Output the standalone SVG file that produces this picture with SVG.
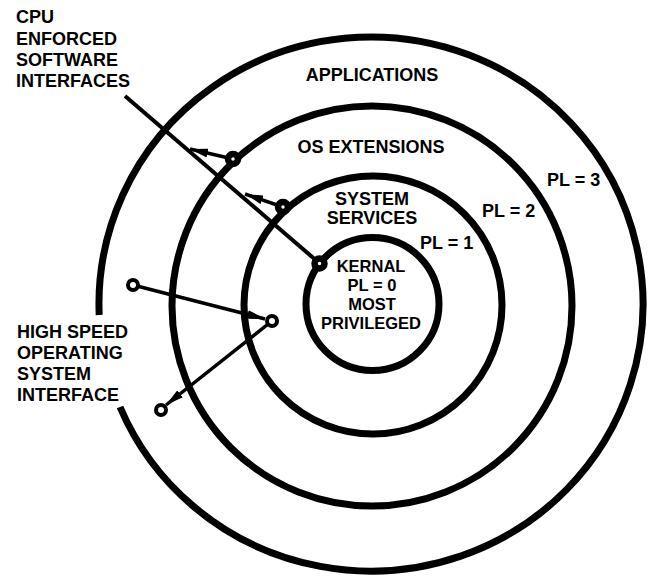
<svg xmlns="http://www.w3.org/2000/svg" width="649" height="578" viewBox="0 0 649 578">
<style>
  .ring { fill: none; stroke: #000; stroke-width: 7; }
  .lbl { font-family: "Liberation Sans", Arial, sans-serif; font-weight: bold; font-size: 18px; fill: #000; }
  .k { font-size: 16.5px; }
  .mid { text-anchor: middle; }
  .conn { fill: none; stroke: #000; stroke-width: 3.5; }
  .long { fill: none; stroke: #000; stroke-width: 4; }
  .gate { fill: #fff; stroke: #000; stroke-width: 6.5; }
  .port { fill: #fff; stroke: #000; stroke-width: 4; }
</style>
<defs>
  <marker id="arrow" viewBox="0 0 18 9" refX="18" refY="4.5" markerWidth="18" markerHeight="9" markerUnits="userSpaceOnUse" orient="auto">
    <path d="M0,0 L18,4.5 L0,9 z" fill="#000"/>
  </marker>
</defs>
<rect width="649" height="578" fill="#fff"/>

<g id="ring-applications">
  <path class="ring" d="M 99.2 315 A 272 267 0 1 1 120 407"/>
  <text class="lbl mid" x="372" y="81">APPLICATIONS</text>
  <text class="lbl" x="547" y="186">PL = 3</text>
</g>
<g id="ring-os-extensions">
  <circle class="ring" cx="372" cy="306" r="200"/>
  <text class="lbl mid" x="371" y="153">OS EXTENSIONS</text>
  <text class="lbl" x="482" y="217">PL = 2</text>
</g>
<g id="ring-system-services">
  <circle class="ring" cx="373" cy="305" r="129"/>
  <text class="lbl mid" x="372" y="205">SYSTEM</text>
  <text class="lbl mid" x="372" y="224">SERVICES</text>
  <text class="lbl" x="420" y="249">PL = 1</text>
</g>
<g id="ring-kernal">
  <circle class="ring" cx="372.5" cy="304" r="66.5"/>
  <text class="lbl k mid" x="371" y="272">KERNAL</text>
  <text class="lbl k mid" x="372" y="291">PL = 0</text>
  <text class="lbl k mid" x="372" y="310">MOST</text>
  <text class="lbl k mid" x="371" y="329">PRIVILEGED</text>
</g>
<g id="label-cpu">
  <text class="lbl" x="16" y="23">CPU</text>
  <text class="lbl" x="16" y="45">ENFORCED</text>
  <text class="lbl" x="16" y="66">SOFTWARE</text>
  <text class="lbl" x="16" y="87">INTERFACES</text>
</g>
<g id="label-high-speed">
  <text class="lbl" x="17" y="338">HIGH SPEED</text>
  <text class="lbl" x="17" y="359">OPERATING</text>
  <text class="lbl" x="17" y="380">SYSTEM</text>
  <text class="lbl" x="17" y="401">INTERFACE</text>
</g>

<g id="connectors">
  <line class="long" x1="125" y1="96" x2="318" y2="262"/>
  <line class="conn" x1="233" y1="159" x2="190" y2="149" marker-end="url(#arrow)"/>
  <line class="conn" x1="283" y1="207" x2="245" y2="194" marker-end="url(#arrow)"/>
  <circle class="gate" cx="233" cy="159" r="5"/>
  <circle class="gate" cx="283" cy="207" r="5"/>
  <circle class="gate" cx="319.5" cy="263.5" r="5"/>
  <line class="conn" x1="133" y1="285" x2="265" y2="319" marker-end="url(#arrow)"/>
  <line class="conn" x1="272" y1="321" x2="166" y2="405" marker-end="url(#arrow)"/>
  <circle class="port" cx="133" cy="285" r="5"/>
  <circle class="port" cx="272" cy="321" r="5"/>
  <circle class="port" cx="161" cy="410" r="5"/>
</g>
</svg>
